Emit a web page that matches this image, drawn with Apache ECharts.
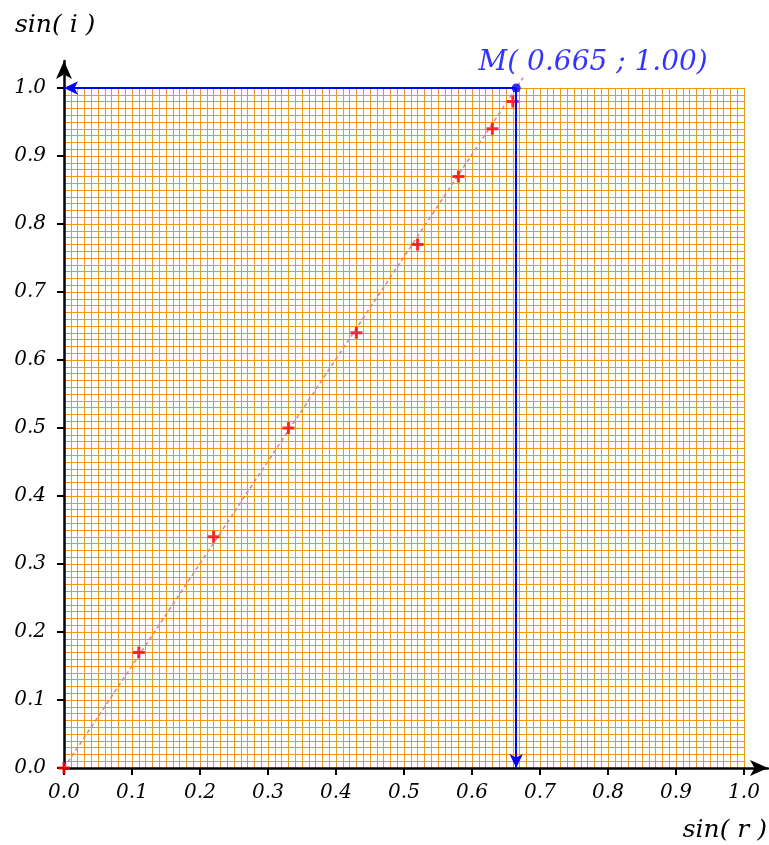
<!DOCTYPE html>
<html><head><meta charset="utf-8">
<script src="https://cdn.jsdelivr.net/npm/echarts@6/dist/echarts.min.js"></script>
<style>html,body{margin:0;padding:0;background:#fff}#c{width:769px;height:845px}</style>
</head><body><div id="c"></div>
<script>
// Data
const sinR = [0, 0.11, 0.22, 0.33, 0.43, 0.52, 0.58, 0.63, 0.66];
const sinI = [0, 0.17, 0.34, 0.50, 0.64, 0.77, 0.87, 0.94, 0.98];
const fitLine = [[0, 0], [0.675, 1.015]];
const pointM = [0.665, 1.00];
const tickStep = 0.1;
const paperStep = 0.01;
const xName = 'sin( r )';
const yName = 'sin( i )';

const FONT = '"DejaVu Serif", serif';
const ORANGE = '#e99c10';
const chart = echarts.init(document.getElementById('c'), null, {renderer: 'canvas'});
const labelStyle = {fontFamily: FONT, fontStyle: 'italic', fontSize: 20, color: '#000',
  formatter: v => v.toFixed(1)};
const hidden = {axisLine: {show: false}, axisTick: {show: false}, axisLabel: {show: false},
  splitLine: {show: false}, minorTick: {show: false}, minorSplitLine: {show: false}};
// axis with ticks + labels
const mainAxis = (extra) => Object.assign({}, hidden, {
  type: 'value', min: 0, max: 1, interval: tickStep, gridIndex: 0,
  axisTick: {show: true, length: 7, lineStyle: {color: '#000', width: 2}}
}, extra);
// axis that only draws the orange paper grid
const paperAxis = () => Object.assign({}, hidden, {
  type: 'value', min: 0, max: 1, interval: paperStep, gridIndex: 0,
  splitLine: {show: true, lineStyle: {color: ORANGE, width: 1}}
});
// axis that only draws the black arrowed line
const frameAxis = (max) => Object.assign({}, hidden, {
  type: 'value', min: 0, max: max, gridIndex: 1,
  axisLine: {show: true, symbol: ['none', 'arrow'], symbolSize: [12, 18],
    lineStyle: {color: '#000', width: 2.5}}
});

const pts = sinR.map((x, i) => [x, sinI[i]]);
const mLabel = `M( ${pointM[0].toFixed(3)} ; ${pointM[1].toFixed(2)})`;

chart.setOption({
  animation: false,
  grid: [
    {left: 64, top: 88, width: 680, height: 680},
    {left: 64, top: 61, width: 704, height: 707}
  ],
  xAxis: [
    mainAxis({axisLabel: Object.assign({show: true, margin: 15}, labelStyle)}),
    frameAxis(704 / 680),
    paperAxis()
  ],
  yAxis: [
    mainAxis({axisLabel: Object.assign({show: true, margin: 18}, labelStyle)}),
    frameAxis(707 / 680),
    paperAxis()
  ],
  series: [
    {type: 'line', data: fitLine, xAxisIndex: 0, yAxisIndex: 0, clip: false,
      symbol: 'none', z: 3,
      lineStyle: {color: '#e0868a', width: 1.6, type: [4, 3]}},
    {type: 'scatter', data: pts, xAxisIndex: 0, yAxisIndex: 0, clip: false, z: 4,
      symbol: 'path://M4.5,0H7.5V4.5H12V7.5H7.5V12H4.5V7.5H0V4.5H4.5Z',
      symbolSize: 12, itemStyle: {color: '#ff0000'}},
    {type: 'scatter', data: [pointM], xAxisIndex: 0, yAxisIndex: 0, clip: false, z: 6,
      symbol: 'circle', symbolSize: 9, itemStyle: {color: '#0000ff'},
      label: {show: true, position: 'top', offset: [77, -2], formatter: () => mLabel,
        fontFamily: FONT, fontStyle: 'italic', fontSize: 28, color: '#0000ff'},
      markLine: {silent: true, symbol: ['none', 'arrow'], symbolSize: [10, 14],
        label: {show: false},
        lineStyle: {color: '#0000ff', width: 2, type: 'solid'},
        data: [
          [{coord: [pointM[0], pointM[1]]}, {coord: [0, pointM[1]]}],
          [{coord: [pointM[0], pointM[1]]}, {coord: [pointM[0], 0]}]
        ]}}
  ],
  graphic: [
    {type: 'text', left: 15, top: 13, style: {text: yName,
      font: 'italic 25px ' + FONT, fill: '#000'}},
    {type: 'text', right: 2, top: 818, style: {text: xName,
      font: 'italic 25px ' + FONT, fill: '#000'}}
  ]
});
</script></body></html>
